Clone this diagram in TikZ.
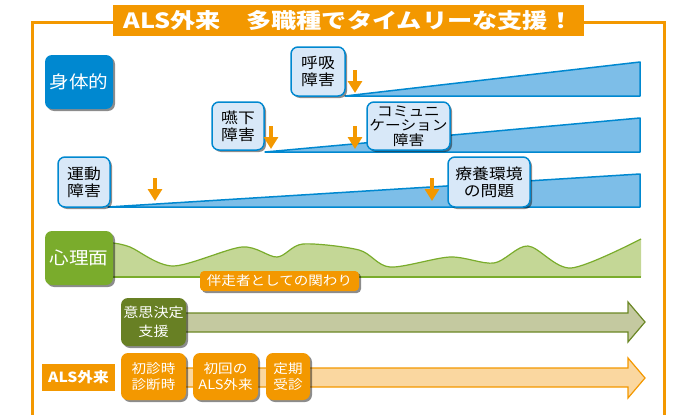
\documentclass[tikz,border=0pt]{standalone}
\usepackage{fontspec}
\setmainfont{Noto Sans CJK JP}[FakeStretch=1.12]
\newfontfamily\titlefont{Noto Sans CJK JP}[FakeStretch=1.2]
\usetikzlibrary{shadows, arrows.meta}

\definecolor{alsorange}{RGB}{243,152,0}
\definecolor{lightorange}{RGB}{250,215,160}
\definecolor{bodyblue}{RGB}{0,136,208}
\definecolor{paleblue}{RGB}{216,232,248}
\definecolor{wedgeblue}{RGB}{125,190,232}
\definecolor{mindgreen}{RGB}{122,172,44}
\definecolor{wavegreen}{RGB}{196,215,150}
\definecolor{darkgreen}{RGB}{104,128,36}
\definecolor{arrowgreen}{RGB}{196,201,160}

\tikzset{
  shade box/.style = {drop shadow = {shadow xshift = 2pt, shadow yshift = -2pt,
      fill = black, opacity = .45}},
  sidebox/.style = {shade box, rounded corners = 7pt, text = white, inner sep = 0pt,
      minimum width = 68pt, minimum height = 54pt,
      font = \fontsize{17.5}{20}\selectfont},
  signbox/.style = {shade box, fill = paleblue, draw = bodyblue, line width = 1.5pt,
      rounded corners = 7pt, inner sep = 0pt, align = center,
      minimum height = 48pt, font = \fontsize{15}{17}\selectfont},
  stepbox/.style = {shade box, fill = alsorange, rounded corners = 7pt, text = white,
      inner sep = 0pt, align = center, minimum height = 47pt,
      font = \fontsize{13}{16.5}\selectfont},
  marker/.style = {draw = alsorange, line width = 4pt,
      -{Triangle[width = 14pt, length = 12pt]}},
  wedge/.style = {fill = wedgeblue, draw = bodyblue, line width = 1.5pt, line join = round}
}

\begin{document}
\begin{tikzpicture}[x = 1pt, y = -1pt]
  \useasboundingbox (0,0) rectangle (678,415);

  % draws the frame and the title
  \draw[alsorange, line width = 3pt] (32,415) -- (32,22) -- (664,22) -- (664,415);
  \node[fill = alsorange, text = white, minimum width = 471pt, minimum height = 31pt,
    inner sep = 0pt, font = \titlefont\bfseries\fontsize{21}{21}\selectfont]
    (title) at (348.5,20.5) {ALS外来　多職種でタイムリーな支援！};

  % draws the wedges
  \draw[wedge] (345,96) -- (640,62) -- (640,96) -- cycle;
  \draw[wedge] (265,152) -- (640,118) -- (640,152) -- cycle;
  \draw[wedge] (108,207) -- (640,174) -- (640,207) -- cycle;

  % draws the boxes
  \node[sidebox, fill = bodyblue] (body) at (79,82) {身体的};
  \node[signbox, minimum width = 54pt, minimum height = 49pt] (breath) at (318,71.5)
    {呼吸\\障害};
  \node[signbox, minimum width = 52pt] (swallow) at (238,126) {嚥下\\障害};
  \node[signbox, minimum width = 83pt, font = \fontsize{14}{14.5}\selectfont]
    (talk) at (408.5,126) {コミュニ\\ケーション\\障害};
  \node[signbox, minimum width = 52pt, minimum height = 50pt] (motor) at (84,182)
    {運動\\障害};
  \node[signbox, minimum width = 82pt, minimum height = 50pt] (care) at (489,182)
    {療養環境\\の問題};

  % draws the arrows
  \foreach \x/\y in {355/70, 271/126, 355/126, 155/178, 432/178}
    \draw[marker] (\x,\y) -- ++(0,23);

  % draws the wave
  \fill[wavegreen] (113,277) -- plot[smooth] coordinates {(113,243) (130,247)
    (173,266) (242,247) (277,257) (303,244) (359,250) (390,267) (450,257)
    (494,263) (528,246) (571,268) (641,239)} -- (641,277) -- cycle;
  \draw[mindgreen, line width = 1.2pt] plot[smooth] coordinates {(113,243) (130,247)
    (173,266) (242,247) (277,257) (303,244) (359,250) (390,267) (450,257)
    (494,263) (528,246) (571,268) (641,239)};
  \draw[mindgreen, line width = 1.2pt] (113,277) -- (641,277);
  \node[sidebox, fill = mindgreen] (mind) at (79,258) {心理面};
  \node[shade box, fill = alsorange, text = white, rounded corners = 4pt,
    minimum width = 159pt, minimum height = 20pt, inner sep = 0pt,
    font = \fontsize{13}{13}\selectfont] (escort) at (279.5,281) {伴走者としての関わり};

  % draws the timelines
  \draw[fill = arrowgreen, draw = darkgreen!85!mindgreen, line width = 1.2pt]
    (150,313) -- (628,313) -- (628,302) -- (645,322) -- (628,342) -- (628,332)
    -- (150,332) -- cycle;
  \draw[fill = lightorange, draw = alsorange, line width = 1.2pt]
    (150,368) -- (628,368) -- (628,358) -- (645,378) -- (628,398) -- (628,387)
    -- (150,387) -- cycle;

  \node[stepbox, fill = darkgreen, minimum width = 65pt, minimum height = 48pt,
    font = \fontsize{13.5}{19}\selectfont] (decide) at (153.5,322) {意思決定\\支援};
  \node[fill = alsorange, text = white, minimum width = 73pt, minimum height = 27pt,
    inner sep = 0pt, font = \bfseries\fontsize{14}{14}\selectfont]
    (clinic) at (78.5,377.5) {ALS外来};
  \node[stepbox, minimum width = 65pt] (first) at (153.5,376.5) {初診時\\診断時};
  \node[stepbox, minimum width = 65pt] (visit) at (225.5,376.5) {初回の\\ALS外来};
  \node[stepbox, minimum width = 44pt] (regular) at (288,376.5) {定期\\受診};
\end{tikzpicture}
\end{document}
